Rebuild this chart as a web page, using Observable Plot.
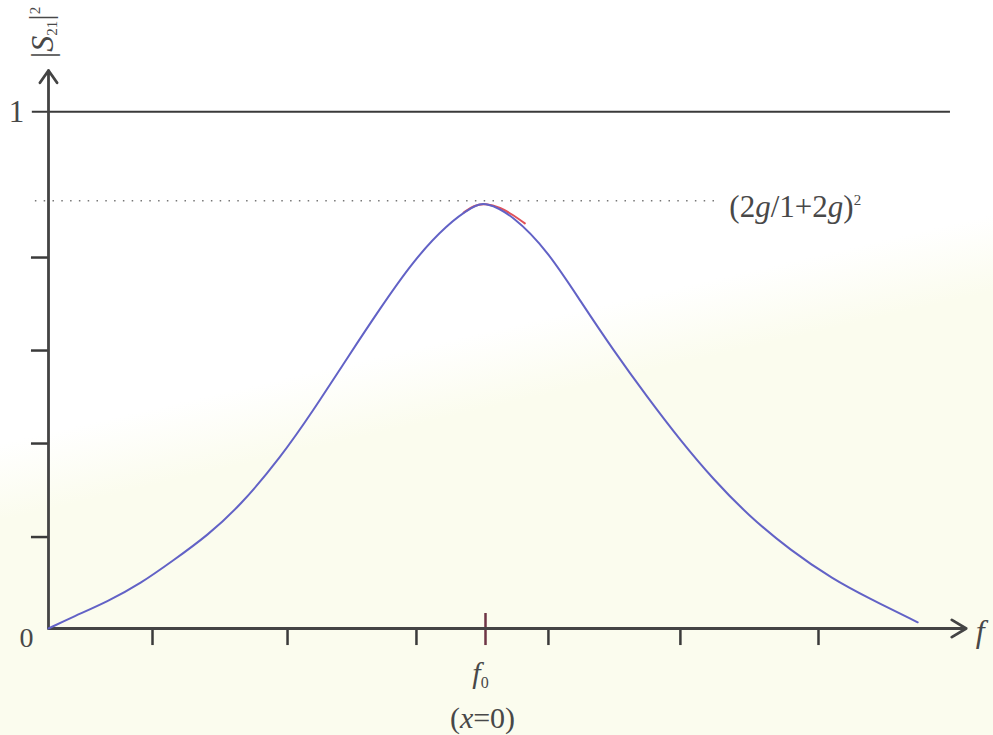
<!DOCTYPE html>
<html><head><meta charset="utf-8">
<script src="https://cdn.jsdelivr.net/npm/d3@7"></script>
<script src="https://cdn.jsdelivr.net/npm/@observablehq/plot@0.6"></script>
<style>
html,body{margin:0;padding:0;}
body{width:993px;height:735px;overflow:hidden;background:linear-gradient(167deg,#ffffff 46%,#fbfcee 54%);}
#chart svg{display:block;}
</style></head><body><div id="chart"></div>
<script>
// normalized frequency (f0 = 0) and |S21|^2
const freq = [-1, -0.943, -0.865, -0.789, -0.714, -0.636, -0.561, -0.469, -0.394, -0.316, -0.240, -0.165, -0.087, -0.027, 0,
  0.064, 0.142, 0.217, 0.293, 0.371, 0.446, 0.522, 0.600, 0.698, 0.796, 0.874, 0.989];
const s21sq = [0, 0.023, 0.052, 0.087, 0.132, 0.180, 0.238, 0.331, 0.422, 0.524, 0.621, 0.712, 0.783, 0.818, 0.826,
  0.799, 0.731, 0.634, 0.538, 0.447, 0.364, 0.288, 0.220, 0.151, 0.095, 0.060, 0.012];
// second (red) trace visible only near the peak
const freqRed = [-0.05, -0.027, 0, 0.034, 0.064, 0.09];
const s21sqRed = [0.805, 0.819, 0.823, 0.815, 0.800, 0.784];
// ticks
const xTicks = [-0.762, -0.453, -0.158, 0.144, 0.446, 0.762];
const f0Tick = [0];
const yTicks = [0.177, 0.358, 0.538, 0.718];
const unityLevel = 1;
const peakLevel = 0.828;
const peakLabel = "(2g/1+2g)2";

const curve = freq.map((f, i) => ({f, s: s21sq[i]}));
const curveRed = freqRed.map((f, i) => ({f, s: s21sqRed[i]}));

const serif = "Liberation Serif";
const ink = "#484848";

const chart = Plot.plot({
  width: 993, height: 735,
  marginLeft: 48, marginRight: 27.3, marginTop: 70, marginBottom: 107,
  style: {background: "transparent", fontFamily: serif},
  x: {domain: [-1, 1.1], axis: null},
  y: {domain: [0, 1.08], axis: null},
  marks: [
    Plot.ruleY([unityLevel], {x1: -1.037, x2: 1.064, stroke: "#3a3a3a", strokeWidth: 2}),
    Plot.ruleY([peakLevel], {x1: -1.03, x2: 0.526, stroke: "#777", strokeWidth: 1.6, strokeDasharray: "1.5 7.3"}),
    Plot.ruleY(yTicks, {x1: -1.039, x2: -1, stroke: "#3a3a3a", strokeWidth: 2.5}),
    Plot.ruleX(xTicks, {y1: 0, y2: -0.033, stroke: "#3a3a3a", strokeWidth: 2.5}),
    Plot.ruleX(f0Tick, {y1: 0.029, y2: -0.033, stroke: "#6e3545", strokeWidth: 2.5}),
    Plot.arrow([{x1: -1, y1: 0, x2: 1.1, y2: 0}], {x1: "x1", y1: "y1", x2: "x2", y2: "y2", stroke: "#444", strokeWidth: 2.8, headLength: 9, headAngle: 62}),
    Plot.arrow([{x1: -1, y1: 0, x2: -1, y2: 1.08}], {x1: "x1", y1: "y1", x2: "x2", y2: "y2", stroke: "#444", strokeWidth: 2.8, headLength: 8, headAngle: 70}),
    Plot.line(curveRed, {x: "f", y: "s", stroke: "#e0525a", strokeWidth: 2, curve: "basis"}),
    Plot.line(curve, {x: "f", y: "s", stroke: "#6262c6", strokeWidth: 2, curve: "basis"}),
    Plot.text(["1"], {x: -1, y: unityLevel, dx: -32, fontSize: 31, fill: ink, fontFamily: serif}),
    Plot.text(["0"], {x: -1, y: 0, dx: -22, dy: 10, fontSize: 28, fill: ink, fontFamily: serif}),
    Plot.text(["f"], {x: 1.1, y: 0, dx: 14, dy: 3, fontSize: 32, fontStyle: "italic", fill: ink, fontFamily: serif}),
    Plot.text(["f0"], {x: 0, y: 0, dx: -5, dy: 45, fontSize: 30, fill: ink, fontFamily: serif}),
    Plot.text(["(x=0)"], {x: 0, y: 0, dx: -3, dy: 90, fontSize: 30, fill: ink, fontFamily: serif}),
    Plot.text([peakLabel], {x: 0.526, y: peakLevel, dx: 14, dy: 6, textAnchor: "start", fontSize: 31, fill: ink, fontFamily: serif}),
    Plot.text(["|S21|2"], {x: -1, y: 1.08, dx: -6, dy: -38, rotate: -90, fontSize: 32, fill: ink, fontFamily: serif})
  ]
});
document.getElementById("chart").appendChild(chart);

// rich text: italics, sub- and superscripts
const svg = d3.select(chart);
function rich(content, parts) {
  svg.selectAll("text").filter(function() { return this.textContent === content; }).each(function() {
    const t = d3.select(this);
    t.text(null);
    parts.forEach(p => {
      const s = t.append("tspan").text(p.t);
      if (p.i) s.attr("font-style", "italic");
      if (p.fs) s.attr("font-size", p.fs);
      if (p.dy) s.attr("dy", p.dy);
    });
  });
}
rich("f0", [{t: "f", i: true}, {t: "0", fs: 16, dy: "0.3em"}]);
rich("(x=0)", [{t: "("}, {t: "x", i: true}, {t: "=0)"}]);
rich(peakLabel, [{t: "(2"}, {t: "g", i: true}, {t: "/1+2"}, {t: "g", i: true}, {t: ")"}, {t: "2", fs: 15, dy: "-0.8em"}]);
rich("|S21|2", [{t: "|"}, {t: "S", i: true}, {t: "21", fs: 15, dy: "0.3em"}, {t: "|", dy: "-0.2em"}, {t: "2", fs: 15, dy: "-0.7em"}]);
</script></body></html>
